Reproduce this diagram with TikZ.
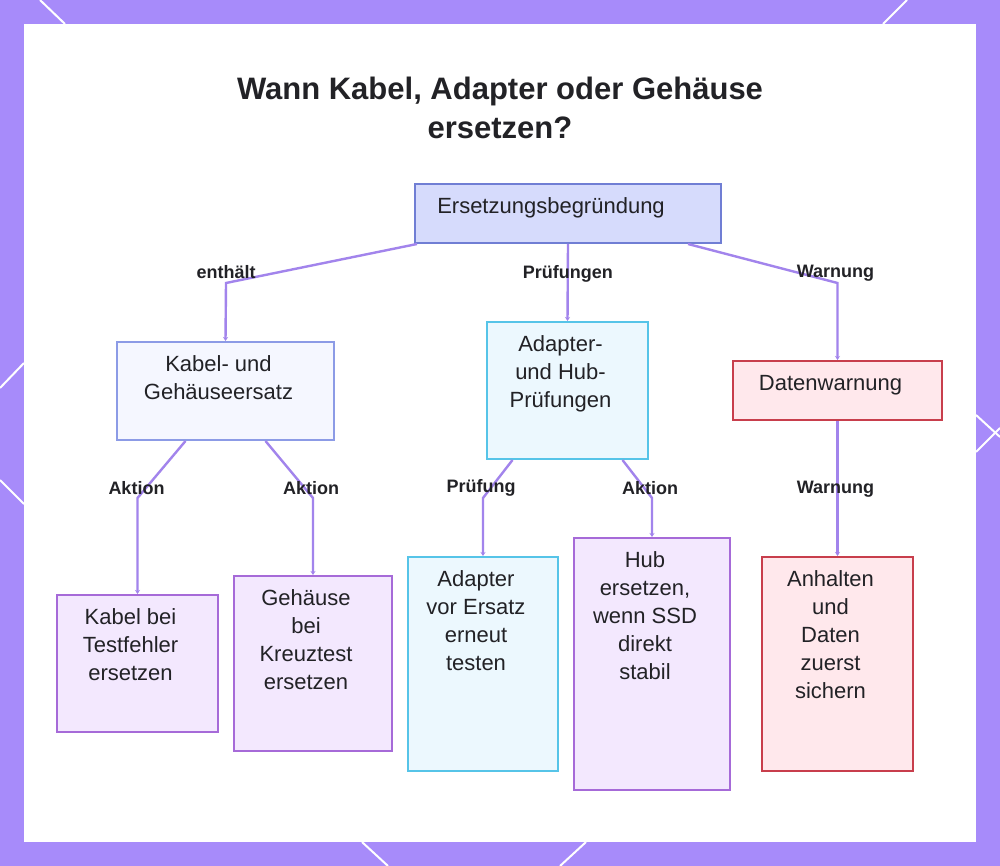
\documentclass[tikz,border=0pt]{standalone}
\usepackage{fontspec}
\setmainfont{Liberation Sans}
\usetikzlibrary{arrows.meta, calc}
\definecolor{cframe}{RGB}{167,139,250}
\definecolor{clink}{RGB}{162,132,236}
\definecolor{ctext}{RGB}{34,34,38}
\definecolor{crootf}{RGB}{214,219,252}
\definecolor{crootd}{RGB}{112,126,212}
\definecolor{cgroupf}{RGB}{245,247,255}
\definecolor{cgroupd}{RGB}{140,155,230}
\definecolor{ccyanf}{RGB}{236,248,254}
\definecolor{ccyand}{RGB}{86,196,232}
\definecolor{credf}{RGB}{255,232,236}
\definecolor{credd}{RGB}{200,62,76}
\definecolor{cpurpf}{RGB}{243,232,254}
\definecolor{cpurpd}{RGB}{166,106,216}

% text of a box: width, height, right pad, lines (set from the top)
\newcommand{\celltext}[4][14]{\parbox[c][#3pt][t]{#2pt}{\centering\rightskip=#1pt plus 1fil\relax
  \vspace*{14pt}#4}}

\begin{document}
\begin{tikzpicture}[
  x=1pt, y=-1pt,
  box/.style 2 args = {rectangle, draw=#2, fill=#1, line width=2pt,
                       inner sep=0pt, text=ctext,
                       font=\fontsize{22}{28}\selectfont},
  link/.style   = {-{Stealth[length=4pt, width=5pt]}, line width=2.4pt, clink},
  lbl/.style    = {font=\bfseries\fontsize{18}{22}\selectfont, text=ctext},
  ttl/.style    = {align=center, font=\bfseries\fontsize{31}{39}\selectfont,
                   text=ctext},
  deco/.style   = {white, line width=2pt},
]

%% --- frame ---
\useasboundingbox (0,0) rectangle (1000,866);
\fill[cframe] (0,0) rectangle (1000,866);
\fill[white] (24,24) rectangle (976,842);
\draw[deco] (40,0) -- (65,24);
\draw[deco] (907,0) -- (883,24);
\draw[deco] (0,388) -- (24,363);
\draw[deco] (0,480) -- (24,504);
\draw[deco] (976,415) -- (1000,437);
\draw[deco] (976,452) -- (1000,428);
\draw[deco] (362,842) -- (388,866);
\draw[deco] (586,842) -- (560,866);

%% --- title ---
\node[ttl] (title) at (500,108) {Wann Kabel, Adapter oder Gehäuse\\ersetzen?};

%% --- root ---
\node[box={crootf}{crootd}] (root) at (568,213.5)
  {\celltext[34]{306}{59}{Ersetzungsbegründung}};

%% --- level 2 ---
\node[box={cgroupf}{cgroupd}] (kabel) at (225.5,391)
  {\celltext{217}{98}{Kabel- und\\Gehäuseersatz}};
\node[box={ccyanf}{ccyand}]   (adapter) at (567.5,390.5)
  {\celltext{161}{137}{Adapter-\\und Hub-\\Prüfungen}};
\node[box={credf}{credd}]     (daten) at (837.5,390.5)
  {\celltext{209}{59}{Datenwarnung}};

%% --- level 3 ---
\node[box={cpurpf}{cpurpd}] (kabelneu) at (137.5,663.5)
  {\celltext{161}{137}{Kabel bei\\Testfehler\\ersetzen}};
\node[box={cpurpf}{cpurpd}] (gehneu) at (313,663.5)
  {\celltext{158}{175}{Gehäuse\\bei\\Kreuztest\\ersetzen}};
\node[box={ccyanf}{ccyand}] (adtest) at (483,664)
  {\celltext{150}{214}{Adapter\\vor Ersatz\\erneut\\testen}};
\node[box={cpurpf}{cpurpd}] (hubneu) at (652,664)
  {\celltext{156}{252}{Hub\\ersetzen,\\wenn SSD\\direkt\\stabil}};
\node[box={credf}{credd}]   (sichern) at (837.5,664)
  {\celltext{151}{214}{Anhalten\\und\\Daten\\zuerst\\sichern}};

%% --- connectors ---
\draw[link] ($(root.south west)+(3,0)$) -- (226,283)
  node[lbl, yshift=11pt] (l1) {enthält} -- (kabel.north);
\draw[link] (root.south) -- node[lbl, yshift=9pt] (l2) {Prüfungen} (adapter.north);
\draw[link] ($(root.south east)+(-34,0)$) -- (837.5,283)
  node[lbl, yshift=10pt, xshift=-2pt] (l3) {Warnung} -- (daten.north);

\draw[link] ($(kabel.south)+(-40,0)$) -- (137.5,498)
  node[lbl, yshift=10pt, xshift=-1pt] (l4) {Aktion} -- (kabelneu.north);
\draw[link] ($(kabel.south)+(40,0)$) -- (313,498)
  node[lbl, yshift=10pt, xshift=-2pt] (l5) {Aktion} -- (gehneu.north);
\draw[link] ($(adapter.south)+(-55,0)$) -- (483,498)
  node[lbl, yshift=10pt, xshift=-2pt] (l6) {Prüfung} -- (adtest.north);
\draw[link] ($(adapter.south)+(55,0)$) -- (652,498)
  node[lbl, yshift=10pt, xshift=-2pt] (l7) {Aktion} -- (hubneu.north);
\draw[link] (daten.south) -- node[lbl, yshift=-1pt, xshift=-2pt] (l8) {Warnung} (sichern.north);

\end{tikzpicture}
\end{document}
